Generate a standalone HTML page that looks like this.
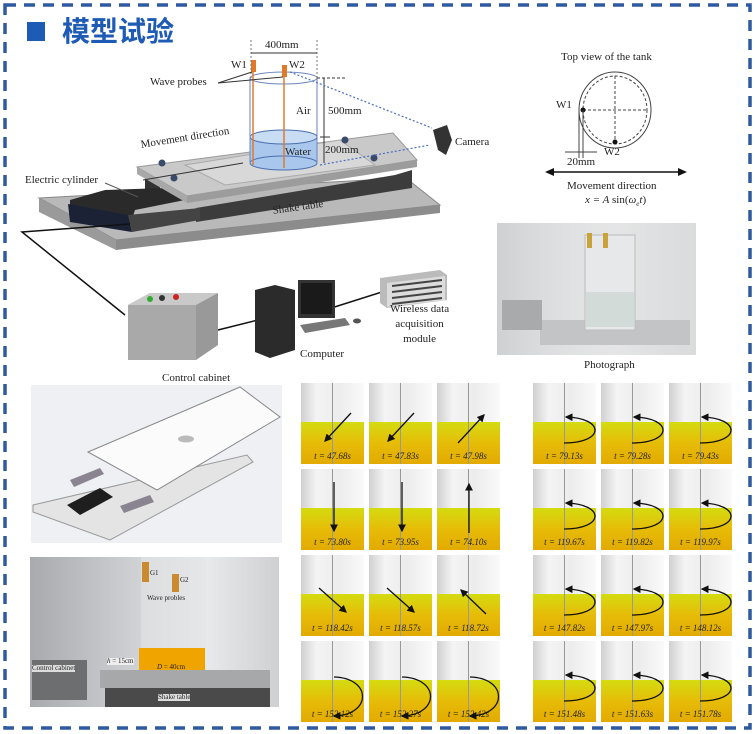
<!DOCTYPE html>
<html><head><meta charset="utf-8">
<style>
html,body{margin:0;padding:0;background:#fff;}
body{width:755px;height:734px;position:relative;overflow:hidden;font-family:"Liberation Serif",serif;}
.t{position:absolute;font-size:11px;color:#222;white-space:nowrap;line-height:1;}
.cell{position:absolute;width:63px;height:81px;overflow:hidden;background:linear-gradient(90deg,#d0d0d0,#f4f4f4 25%,#ececec 60%,#fafafa);}
.cell .w{position:absolute;left:0;right:0;bottom:0;height:42px;background:linear-gradient(180deg,#d4dc10,#e6bc08 50%,#e3aa00);}
.cell .r{position:absolute;top:0;bottom:0;left:31px;width:1px;background:#999;}
.cell .l{position:absolute;left:0;right:0;bottom:3px;text-align:center;font-size:9px;font-style:italic;color:#222;}
</style></head><body>
<svg width="755" height="734" style="position:absolute;left:0;top:0">
<rect x="5" y="5" width="745" height="723" fill="none" stroke="#2f5aa0" stroke-width="3.5" stroke-dasharray="11,8"/>
<rect x="27" y="22" width="18" height="19" fill="#1e5bb5"/>
<polygon points="39,198 406,178 440,205 116,240" fill="#b9b9b9" stroke="#888"/>
<polygon points="39,198 116,240 116,250 39,212" fill="#9a9a9a"/>
<polygon points="116,240 440,205 440,213 116,250" fill="#8c8c8c"/>
<polygon points="196,208 395,175 412,170 412,188 196,222" fill="#3c3c3c"/>
<polygon points="145,174 160,172 160,190 145,192" fill="#333"/>
<polygon points="70,200 105,190 165,188 185,200 135,210 130,225 70,212" fill="#2a2a2a"/>
<polygon points="68,204 128,215 132,232 70,222" fill="#1b2236"/>
<polygon points="128,215 200,208 200,220 132,232" fill="#444"/>
<polygon points="137,167 393,133 417,160 187,196" fill="#c9c9c9" stroke="#999"/>
<polygon points="137,167 187,196 187,203 137,174" fill="#a8a8a8"/>
<polygon points="187,196 417,160 417,167 187,203" fill="#9c9c9c"/>
<polygon points="185,165 340,140 375,165 225,185" fill="#d8d8d8" stroke="#aaa"/>
<circle cx="162" cy="163" r="3.5" fill="#3a4a6a"/><circle cx="174" cy="178" r="3.5" fill="#3a4a6a"/>
<circle cx="345" cy="140" r="3.5" fill="#3a4a6a"/><circle cx="374" cy="158" r="3.5" fill="#3a4a6a"/>
<rect x="250" y="137" width="67" height="26" fill="#a9c7ec"/>
<ellipse cx="283.5" cy="163" rx="33.5" ry="7" fill="#a9c7ec" stroke="#4a6fae"/>
<ellipse cx="283.5" cy="137" rx="33.5" ry="7" fill="#c8dcf4" stroke="#4a6fae"/>
<line x1="250" y1="78" x2="250" y2="163" stroke="#6a86bb"/>
<line x1="317" y1="78" x2="317" y2="163" stroke="#6a86bb"/>
<ellipse cx="283.5" cy="78" rx="33.5" ry="6" fill="none" stroke="#6a86bb"/>
<line x1="253" y1="62" x2="253" y2="165" stroke="#e07a2a" stroke-width="1.5"/>
<line x1="284" y1="66" x2="284" y2="168" stroke="#e07a2a" stroke-width="1.5"/>
<rect x="251" y="60" width="5" height="12" fill="#e07a2a"/><rect x="282" y="65" width="5" height="12" fill="#e07a2a"/>
<line x1="251" y1="40" x2="251" y2="78" stroke="#777" stroke-dasharray="2,2"/>
<line x1="317" y1="40" x2="317" y2="78" stroke="#777" stroke-dasharray="2,2"/>
<line x1="251" y1="53" x2="317" y2="53" stroke="#333"/>
<line x1="324" y1="78" x2="324" y2="163" stroke="#333"/>
<line x1="317" y1="78" x2="345" y2="78" stroke="#333" stroke-dasharray="3,2"/>
<line x1="320" y1="137" x2="330" y2="137" stroke="#333"/>
<line x1="218" y1="83" x2="252" y2="72" stroke="#333"/><line x1="218" y1="83" x2="283" y2="77" stroke="#333"/>
<line x1="143" y1="180" x2="243" y2="163" stroke="#333"/>
<line x1="138" y1="197" x2="105" y2="183" stroke="#555"/>
<line x1="290" y1="72" x2="432" y2="128" stroke="#4a6fbf" stroke-dasharray="2,2" stroke-width="1.2"/>
<line x1="320" y1="165" x2="430" y2="145" stroke="#4a6fbf" stroke-dasharray="2,2" stroke-width="1.2"/>
<polygon points="433,130 447,125 452,140 446,155 438,150" fill="#333"/>
<polyline points="130,224 22,232 125,315" fill="none" stroke="#111" stroke-width="1.5"/>
<line x1="218" y1="330" x2="258" y2="320" stroke="#111" stroke-width="1.5"/>
<line x1="325" y1="310" x2="382" y2="292" stroke="#111" stroke-width="1.5"/>
<polygon points="128,305 150,293 218,293 218,345 196,360 128,360" fill="#999"/>
<polygon points="128,305 150,293 218,293 196,305" fill="#c9c9c9"/>
<rect x="128" y="305" width="68" height="55" fill="#a9a9a9"/>
<circle cx="150" cy="299" r="3" fill="#3a3"/><circle cx="162" cy="298" r="3" fill="#333"/><circle cx="176" cy="297" r="3" fill="#c22"/>
<polygon points="255,290 275,285 295,290 295,350 270,358 255,352" fill="#2b2b2b"/>
<rect x="298" y="280" width="37" height="38" fill="#333"/><rect x="301" y="283" width="31" height="31" fill="#1a1a1a"/>
<polygon points="300,325 345,318 350,325 305,333" fill="#777"/><ellipse cx="357" cy="321" rx="4" ry="2.5" fill="#555"/>
<polygon points="380,278 440,270 447,275 447,300 387,308 380,303" fill="#bbb"/>
<polygon points="387,283 445,276 445,300 387,307" fill="#dcdcdc"/>
<g stroke="#444" stroke-width="2"><line x1="392" y1="286" x2="442" y2="280"/><line x1="392" y1="292" x2="442" y2="286"/><line x1="392" y1="298" x2="442" y2="292"/><line x1="392" y1="304" x2="442" y2="298"/></g>
<ellipse cx="615" cy="110" rx="36" ry="38" fill="none" stroke="#444"/>
<ellipse cx="615" cy="110" rx="32" ry="34" fill="none" stroke="#444" stroke-dasharray="3,2"/>
<line x1="583" y1="110" x2="647" y2="110" stroke="#444" stroke-dasharray="3,2"/>
<line x1="615" y1="76" x2="615" y2="144" stroke="#444" stroke-dasharray="3,2"/>
<circle cx="583" cy="110" r="2.5" fill="#111"/><circle cx="615" cy="142" r="2.5" fill="#111"/>
<line x1="579" y1="110" x2="579" y2="158" stroke="#444"/><line x1="583" y1="110" x2="583" y2="158" stroke="#444"/>
<line x1="565" y1="152" x2="597" y2="152" stroke="#444"/>
<line x1="552" y1="172" x2="680" y2="172" stroke="#111" stroke-width="1.5"/>
<polygon points="545,172 554,168 554,176" fill="#111"/><polygon points="687,172 678,168 678,176" fill="#111"/>
<defs><linearGradient id="pg" x1="0" x2="1"><stop offset="0" stop-color="#c8c9cb" stop-opacity=".6"/><stop offset="0.6" stop-color="#fff" stop-opacity=".3"/><stop offset="1" stop-color="#e0e0e0" stop-opacity=".2"/></linearGradient>
<linearGradient id="pg2" x1="0" x2="1"><stop offset="0" stop-color="#a8aaae"/><stop offset="0.7" stop-color="#e9eaec"/><stop offset="1" stop-color="#cfd0d2"/></linearGradient></defs>
<rect x="497" y="223" width="199" height="132" fill="#d9dadb"/>
<rect x="497" y="223" width="199" height="132" fill="url(#pg)"/>
<rect x="540" y="320" width="150" height="25" fill="#c3c4c6"/>
<rect x="585" y="235" width="50" height="95" fill="#e6e8ea" stroke="#bbb"/>
<rect x="586" y="292" width="48" height="35" fill="#d3dbd8"/>
<rect x="502" y="300" width="40" height="30" fill="#a9aaab"/>
<rect x="587" y="233" width="5" height="15" fill="#c9a23a"/><rect x="603" y="233" width="5" height="15" fill="#c9a23a"/>
<!-- CAD -->
<rect x="31" y="385" width="251" height="158" fill="#eef0f3"/>
<polygon points="33,505 247,455 253,462 110,540 33,512" fill="#e4e4e4" stroke="#999"/>
<polygon points="88,452 240,387 280,417 157,490" fill="#fbfbfb" stroke="#888"/>
<ellipse cx="186" cy="439" rx="8" ry="3.5" fill="#bbb"/>
<polygon points="67,505 100,488 113,497 80,515" fill="#1e1e1e"/>
<polygon points="70,480 100,468 104,474 74,487" fill="#8a8490"/>
<polygon points="120,506 150,495 154,502 124,513" fill="#8a8490"/>
<rect x="31" y="385" width="251" height="158" fill="none"/>
<rect x="30" y="557" width="249" height="150" fill="url(#pg2)"/>
<rect x="141" y="557" width="65" height="120" fill="#e3e4e6" opacity=".6"/>
<rect x="139" y="648" width="66" height="26" fill="#f0a400"/>
<rect x="100" y="670" width="170" height="18" fill="#a7a8aa"/>
<rect x="105" y="688" width="165" height="19" fill="#4a4a4a"/>
<rect x="32" y="660" width="55" height="40" fill="#6c6e70"/>
<rect x="142" y="562" width="7" height="20" fill="#c98a30"/><rect x="172" y="574" width="7" height="18" fill="#c98a30"/>
</svg>
<div class="t" style="left:62px;top:18px;font-size:28px;font-weight:bold;color:#1e5bb5;font-family:'Liberation Sans','Noto Sans CJK SC',sans-serif;">模型试验</div>
<div class="t" style="left:265px;top:40px;">400mm</div>
<div class="t" style="left:231px;top:60px;">W1</div>
<div class="t" style="left:289px;top:60px;">W2</div>
<div class="t" style="left:150px;top:77px;">Wave probes</div>
<div class="t" style="left:296px;top:106px;">Air</div>
<div class="t" style="left:328px;top:106px;">500mm</div>
<div class="t" style="left:285px;top:147px;">Water</div>
<div class="t" style="left:325px;top:145px;">200mm</div>
<div class="t" style="left:455px;top:137px;">Camera</div>
<div class="t" style="left:140px;top:140px;transform:rotate(-9deg);transform-origin:left top;">Movement direction</div>
<div class="t" style="left:25px;top:175px;">Electric cylinder</div>
<div class="t" style="left:272px;top:206px;transform:rotate(-8deg);transform-origin:left top;">Shake table</div>
<div class="t" style="left:162px;top:373px;">Control cabinet</div>
<div class="t" style="left:300px;top:349px;">Computer</div>
<div class="t" style="left:390px;top:302px;text-align:center;line-height:15px;">Wireless data<br>acquisition<br>module</div>
<div class="t" style="left:561px;top:52px;">Top view of the tank</div>
<div class="t" style="left:556px;top:100px;">W1</div>
<div class="t" style="left:604px;top:147px;">W2</div>
<div class="t" style="left:567px;top:157px;">20mm</div>
<div class="t" style="left:567px;top:181px;">Movement direction</div>
<div class="t" style="left:585px;top:195px;font-style:italic;">x = A</div><div class="t" style="left:612px;top:195px;">sin(<i>ω<sub style="font-size:7px">e</sub>t</i>)</div>
<div class="t" style="left:584px;top:360px;">Photograph</div>
<div class="t" style="left:32px;top:665px;font-size:7px;background:#ddd;">Control cabinet</div>
<div class="t" style="left:158px;top:694px;font-size:7px;background:#ddd;">Shake table</div>
<div class="t" style="left:147px;top:595px;font-size:7px;">Wave probles</div>
<div class="t" style="left:150px;top:570px;font-size:7px;">G1</div><div class="t" style="left:180px;top:577px;font-size:7px;">G2</div>
<div class="t" style="left:107px;top:658px;font-size:7px;background:#eee;"><i>h</i> = 15cm</div>
<div class="t" style="left:157px;top:664px;font-size:7px;"><i>D</i> = 40cm</div>

<div class="cell" style="left:301px;top:383px"><div class="w"></div><div class="r"></div><div class="l">t = 47.68s</div></div>
<div class="cell" style="left:369px;top:383px"><div class="w"></div><div class="r"></div><div class="l">t = 47.83s</div></div>
<div class="cell" style="left:437px;top:383px"><div class="w"></div><div class="r"></div><div class="l">t = 47.98s</div></div>
<div class="cell" style="left:301px;top:469px"><div class="w"></div><div class="r"></div><div class="l">t = 73.80s</div></div>
<div class="cell" style="left:369px;top:469px"><div class="w"></div><div class="r"></div><div class="l">t = 73.95s</div></div>
<div class="cell" style="left:437px;top:469px"><div class="w"></div><div class="r"></div><div class="l">t = 74.10s</div></div>
<div class="cell" style="left:301px;top:555px"><div class="w"></div><div class="r"></div><div class="l">t = 118.42s</div></div>
<div class="cell" style="left:369px;top:555px"><div class="w"></div><div class="r"></div><div class="l">t = 118.57s</div></div>
<div class="cell" style="left:437px;top:555px"><div class="w"></div><div class="r"></div><div class="l">t = 118.72s</div></div>
<div class="cell" style="left:301px;top:641px"><div class="w"></div><div class="r"></div><div class="l">t = 152.12s</div></div>
<div class="cell" style="left:369px;top:641px"><div class="w"></div><div class="r"></div><div class="l">t = 152.27s</div></div>
<div class="cell" style="left:437px;top:641px"><div class="w"></div><div class="r"></div><div class="l">t = 152.42s</div></div>

<div class="cell" style="left:533px;top:383px"><div class="w"></div><div class="r"></div><div class="l">t = 79.13s</div></div>
<div class="cell" style="left:601px;top:383px"><div class="w"></div><div class="r"></div><div class="l">t = 79.28s</div></div>
<div class="cell" style="left:669px;top:383px"><div class="w"></div><div class="r"></div><div class="l">t = 79.43s</div></div>
<div class="cell" style="left:533px;top:469px"><div class="w"></div><div class="r"></div><div class="l">t = 119.67s</div></div>
<div class="cell" style="left:601px;top:469px"><div class="w"></div><div class="r"></div><div class="l">t = 119.82s</div></div>
<div class="cell" style="left:669px;top:469px"><div class="w"></div><div class="r"></div><div class="l">t = 119.97s</div></div>
<div class="cell" style="left:533px;top:555px"><div class="w"></div><div class="r"></div><div class="l">t = 147.82s</div></div>
<div class="cell" style="left:601px;top:555px"><div class="w"></div><div class="r"></div><div class="l">t = 147.97s</div></div>
<div class="cell" style="left:669px;top:555px"><div class="w"></div><div class="r"></div><div class="l">t = 148.12s</div></div>
<div class="cell" style="left:533px;top:641px"><div class="w"></div><div class="r"></div><div class="l">t = 151.48s</div></div>
<div class="cell" style="left:601px;top:641px"><div class="w"></div><div class="r"></div><div class="l">t = 151.63s</div></div>
<div class="cell" style="left:669px;top:641px"><div class="w"></div><div class="r"></div><div class="l">t = 151.78s</div></div>

<svg width="755" height="734" style="position:absolute;left:0;top:0" fill="none" stroke="#111" stroke-width="1.3">
<defs><marker id="a" markerWidth="6" markerHeight="6" refX="5" refY="3" orient="auto"><path d="M0,0 L6,3 L0,6z" fill="#111" stroke="none"/></marker></defs>
<line x1="351" y1="413" x2="325" y2="441" marker-end="url(#a)"/>
<line x1="414" y1="413" x2="388" y2="441" marker-end="url(#a)"/>
<line x1="458" y1="443" x2="484" y2="415" marker-end="url(#a)"/>
<line x1="334" y1="482" x2="334" y2="531" marker-end="url(#a)"/>
<line x1="402" y1="482" x2="402" y2="531" marker-end="url(#a)"/>
<line x1="469" y1="533" x2="469" y2="484" marker-end="url(#a)"/>
<line x1="319" y1="588" x2="346" y2="612" marker-end="url(#a)"/>
<line x1="387" y1="588" x2="414" y2="612" marker-end="url(#a)"/>
<line x1="486" y1="614" x2="461" y2="590" marker-end="url(#a)"/>
<path d="M334,677 C372,678 372,715 334,716" marker-end="url(#a)"/>
<path d="M402,677 C440,678 440,715 402,716" marker-end="url(#a)"/>
<path d="M470,677 C508,678 508,715 470,716" marker-end="url(#a)"/>
<path d="M564,443 C605,443 605,418 566,417" marker-end="url(#a)"/>
<path d="M632,443 C673,443 673,418 634,417" marker-end="url(#a)"/>
<path d="M700,443 C741,443 741,418 702,417" marker-end="url(#a)"/>
<path d="M564,529 C605,529 605,504 566,503" marker-end="url(#a)"/>
<path d="M632,529 C673,529 673,504 634,503" marker-end="url(#a)"/>
<path d="M700,529 C741,529 741,504 702,503" marker-end="url(#a)"/>
<path d="M564,615 C605,615 605,590 566,589" marker-end="url(#a)"/>
<path d="M632,615 C673,615 673,590 634,589" marker-end="url(#a)"/>
<path d="M700,615 C741,615 741,590 702,589" marker-end="url(#a)"/>
<path d="M564,701 C605,701 605,676 566,675" marker-end="url(#a)"/>
<path d="M632,701 C673,701 673,676 634,675" marker-end="url(#a)"/>
<path d="M700,701 C741,701 741,676 702,675" marker-end="url(#a)"/>
</svg>
</body></html>
